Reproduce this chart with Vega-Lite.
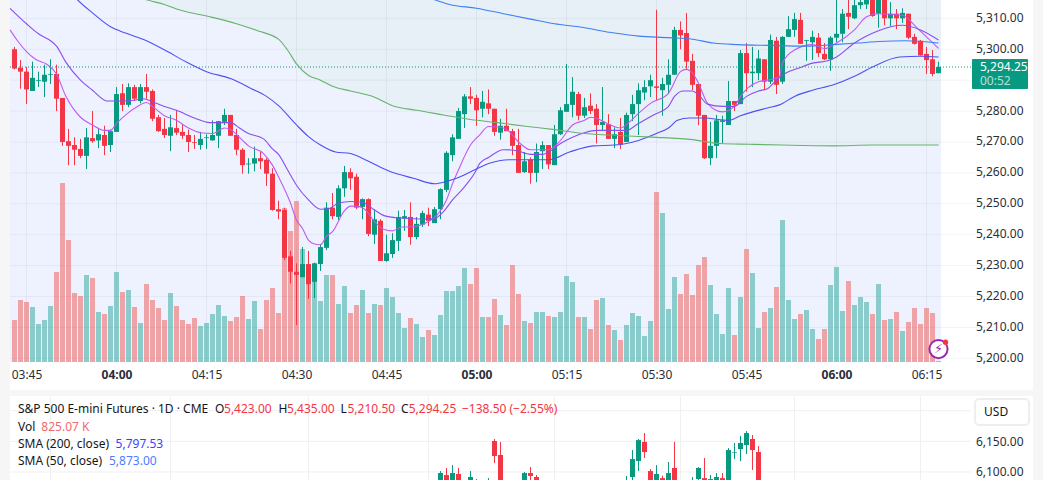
{
"$schema":"https://vega.github.io/schema/vega-lite/v6.json",
"width":1043,"height":480,"padding":0,"autosize":"none","background":"#f6f6f6",
"config":{"view":{"stroke":null},"font":"Noto Sans"},
"resolve":{"scale":{"x":"independent","y":"independent","color":"independent"}},
"datasets":{
"panels":[
{"kind":"card","t0":"03:42:15","t1":"06:32:45","p0":5189.76,"p1":5315.93},
{"kind":"card","t0":"03:42:15","t1":"06:32:45","p0":5160.64,"p1":5187.82},
{"kind":"plot","t0":"03:42:15","t1":"06:17:25","p0":5198.8,"p1":5315.93}
],
"hgrid":[
{"p":5310,"t0":"03:42:15","t1":"06:26:05"},{"p":5300,"t0":"03:42:15","t1":"06:26:05"},{"p":5290,"t0":"03:42:15","t1":"06:26:05"},{"p":5280,"t0":"03:42:15","t1":"06:26:05"},{"p":5270,"t0":"03:42:15","t1":"06:26:05"},{"p":5260,"t0":"03:42:15","t1":"06:26:05"},{"p":5250,"t0":"03:42:15","t1":"06:26:05"},{"p":5240,"t0":"03:42:15","t1":"06:26:05"},{"p":5230,"t0":"03:42:15","t1":"06:26:05"},{"p":5220,"t0":"03:42:15","t1":"06:26:05"},{"p":5210,"t0":"03:42:15","t1":"06:26:05"},{"p":5200,"t0":"03:42:15","t1":"06:26:05"}
],
"vgrid":[
{"t":"03:45:00","p0":5198.8,"p1":5315.93},{"t":"04:00:00","p0":5198.8,"p1":5315.93},{"t":"04:15:00","p0":5198.8,"p1":5315.93},{"t":"04:30:00","p0":5198.8,"p1":5315.93},{"t":"04:45:00","p0":5198.8,"p1":5315.93},{"t":"05:00:00","p0":5198.8,"p1":5315.93},{"t":"05:15:00","p0":5198.8,"p1":5315.93},{"t":"05:30:00","p0":5198.8,"p1":5315.93},{"t":"05:45:00","p0":5198.8,"p1":5315.93},{"t":"06:00:00","p0":5198.8,"p1":5315.93},{"t":"06:15:00","p0":5198.8,"p1":5315.93}
],
"cloud":[
{"t":"04:03:00","p":5317.5},{"t":"04:05:00","p":5316},{"t":"04:08:00","p":5314.5},{"t":"04:10:00","p":5313},{"t":"04:15:00","p":5310.75},{"t":"04:20:00","p":5308.25},{"t":"04:23:30","p":5306},{"t":"04:27:00","p":5303.25},{"t":"04:28:30","p":5299.75},{"t":"04:30:00","p":5295.25},{"t":"04:32:00","p":5291.5},{"t":"04:34:00","p":5290},{"t":"04:36:00","p":5288},{"t":"04:39:00","p":5286.5},{"t":"04:43:00","p":5284.5},{"t":"04:46:00","p":5281.75},{"t":"04:50:00","p":5280.25},{"t":"04:54:30","p":5278.75},{"t":"04:59:00","p":5277.25},{"t":"05:03:30","p":5276.25},{"t":"05:08:30","p":5275},{"t":"05:13:00","p":5274},{"t":"05:18:00","p":5272.75},{"t":"05:22:00","p":5272.25},{"t":"05:27:00","p":5271.75},{"t":"05:30:00","p":5271.5},{"t":"05:36:00","p":5270.75},{"t":"05:40:30","p":5269.5},{"t":"05:45:30","p":5269.25},{"t":"05:51:00","p":5269},{"t":"05:59:30","p":5268.75},{"t":"06:06:00","p":5269},{"t":"06:17:25","p":5269}
],
"bars":[
{"t":"03:43","o":5300,"h":5300.75,"l":5293.5,"c":5293.75,"v":1260},
{"t":"03:44","o":5294,"h":5296.5,"l":5287.25,"c":5292.75,"v":1860},
{"t":"03:45","o":5292.75,"h":5294.25,"l":5282.25,"c":5287,"v":1800},
{"t":"03:46","o":5286.5,"h":5296,"l":5286.5,"c":5290.75,"v":1650},
{"t":"03:47","o":5289.75,"h":5292.75,"l":5287.75,"c":5290,"v":1140},
{"t":"03:48","o":5289.5,"h":5295,"l":5284.5,"c":5291.75,"v":1260},
{"t":"03:49","o":5291.75,"h":5296.75,"l":5288.75,"c":5292,"v":1680},
{"t":"03:50","o":5292,"h":5295,"l":5280,"c":5284,"v":2700},
{"t":"03:51","o":5284.25,"h":5284.25,"l":5268.75,"c":5270,"v":5370},
{"t":"03:52","o":5270.25,"h":5274.25,"l":5262.5,"c":5268.75,"v":3660},
{"t":"03:53","o":5269,"h":5271.5,"l":5262.5,"c":5267.5,"v":2070},
{"t":"03:54","o":5267.75,"h":5271,"l":5264.75,"c":5265.5,"v":1980},
{"t":"03:55","o":5265.5,"h":5274.5,"l":5261.25,"c":5271.5,"v":2610},
{"t":"03:56","o":5271.25,"h":5280,"l":5269.75,"c":5270.25,"v":2520},
{"t":"03:57","o":5270.5,"h":5274.5,"l":5268,"c":5272.5,"v":1500},
{"t":"03:58","o":5272.25,"h":5275.25,"l":5265.75,"c":5268.75,"v":1440},
{"t":"03:59","o":5269,"h":5274,"l":5266.75,"c":5273.5,"v":1680},
{"t":"04:00","o":5273.25,"h":5287.75,"l":5273.25,"c":5285.5,"v":2700},
{"t":"04:01","o":5285.75,"h":5288.75,"l":5280,"c":5282,"v":2100},
{"t":"04:02","o":5282,"h":5289,"l":5281.25,"c":5287.75,"v":2160},
{"t":"04:03","o":5287.75,"h":5288.5,"l":5283.25,"c":5284,"v":1650},
{"t":"04:04","o":5283.25,"h":5288.75,"l":5282.5,"c":5287.75,"v":1170},
{"t":"04:05","o":5287.75,"h":5292,"l":5284,"c":5286.25,"v":2340},
{"t":"04:06","o":5286.5,"h":5287,"l":5276.75,"c":5277.5,"v":1860},
{"t":"04:07","o":5278,"h":5278.75,"l":5273.25,"c":5273.5,"v":1620},
{"t":"04:08","o":5274.25,"h":5277.75,"l":5271.25,"c":5272.25,"v":1260},
{"t":"04:09","o":5272,"h":5278.75,"l":5267,"c":5274.75,"v":2070},
{"t":"04:10","o":5274.5,"h":5280.25,"l":5272.25,"c":5273,"v":1680},
{"t":"04:11","o":5273.25,"h":5275.75,"l":5271,"c":5272,"v":1260},
{"t":"04:12","o":5272.25,"h":5274,"l":5266.75,"c":5270,"v":1140},
{"t":"04:13","o":5270,"h":5272.25,"l":5267.75,"c":5269.75,"v":1320},
{"t":"04:14","o":5269,"h":5273.25,"l":5267.5,"c":5271,"v":1080},
{"t":"04:15","o":5271.25,"h":5272.5,"l":5267.75,"c":5271.5,"v":1170},
{"t":"04:16","o":5270.5,"h":5277,"l":5270.5,"c":5272.25,"v":1440},
{"t":"04:17","o":5272,"h":5276.75,"l":5268,"c":5276.75,"v":1710},
{"t":"04:18","o":5276.5,"h":5280.75,"l":5275.5,"c":5278.75,"v":1380},
{"t":"04:19","o":5278.75,"h":5278.75,"l":5272,"c":5272,"v":1230},
{"t":"04:20","o":5272.25,"h":5274.25,"l":5265.75,"c":5267.5,"v":1350},
{"t":"04:21","o":5267.5,"h":5268,"l":5259.75,"c":5262.5,"v":1980},
{"t":"04:22","o":5262.75,"h":5264.75,"l":5259.75,"c":5263,"v":1290},
{"t":"04:23","o":5263,"h":5268.5,"l":5260.5,"c":5264.75,"v":1830},
{"t":"04:24","o":5264.75,"h":5266.75,"l":5261.25,"c":5263.75,"v":990},
{"t":"04:25","o":5264.25,"h":5264.75,"l":5255.75,"c":5259.75,"v":1860},
{"t":"04:26","o":5259.75,"h":5261.5,"l":5247.75,"c":5248,"v":2220},
{"t":"04:27","o":5248.25,"h":5251,"l":5245,"c":5247.5,"v":1470},
{"t":"04:28","o":5248,"h":5248.75,"l":5231.75,"c":5232.5,"v":4620},
{"t":"04:29","o":5233,"h":5234.75,"l":5224.25,"c":5228,"v":3930},
{"t":"04:30","o":5228,"h":5230.75,"l":5210.75,"c":5227,"v":4830},
{"t":"04:31","o":5226.25,"h":5236,"l":5226.25,"c":5230.5,"v":3390},
{"t":"04:32","o":5230.5,"h":5234.75,"l":5219.25,"c":5224,"v":2900},
{"t":"04:33","o":5224.75,"h":5231,"l":5219.5,"c":5230.75,"v":2800},
{"t":"04:34","o":5230.5,"h":5237,"l":5228.25,"c":5236,"v":1830},
{"t":"04:35","o":5235.75,"h":5250.5,"l":5235,"c":5248.75,"v":2610},
{"t":"04:36","o":5248.75,"h":5253.5,"l":5245,"c":5246,"v":2610},
{"t":"04:37","o":5245.75,"h":5256,"l":5244.75,"c":5255,"v":1740},
{"t":"04:38","o":5255,"h":5262.25,"l":5252.25,"c":5260.25,"v":2280},
{"t":"04:39","o":5260.25,"h":5261.5,"l":5254.5,"c":5258.25,"v":1470},
{"t":"04:40","o":5258.75,"h":5259.75,"l":5248.25,"c":5248.75,"v":1710},
{"t":"04:41","o":5249,"h":5251.75,"l":5245,"c":5251.5,"v":2160},
{"t":"04:42","o":5251.5,"h":5251.75,"l":5239.5,"c":5240.25,"v":1470},
{"t":"04:43","o":5240,"h":5248.25,"l":5237,"c":5245,"v":1740},
{"t":"04:44","o":5244.5,"h":5245,"l":5231.5,"c":5231.5,"v":1710},
{"t":"04:45","o":5231.5,"h":5240,"l":5231.25,"c":5234,"v":2220},
{"t":"04:46","o":5233.75,"h":5240.5,"l":5232.5,"c":5238.25,"v":1950},
{"t":"04:47","o":5238,"h":5247.75,"l":5234.75,"c":5245.75,"v":1470},
{"t":"04:48","o":5245.25,"h":5248,"l":5241.25,"c":5246,"v":1020},
{"t":"04:49","o":5245.75,"h":5250.5,"l":5236.75,"c":5239.25,"v":1320},
{"t":"04:50","o":5239.25,"h":5245.75,"l":5238.5,"c":5243.5,"v":1140},
{"t":"04:51","o":5243.25,"h":5247.75,"l":5242.5,"c":5247,"v":750},
{"t":"04:52","o":5246.5,"h":5248.75,"l":5242.75,"c":5244.5,"v":960},
{"t":"04:53","o":5243.75,"h":5249,"l":5243.75,"c":5248.25,"v":810},
{"t":"04:54","o":5248.25,"h":5255,"l":5245,"c":5254.75,"v":1410},
{"t":"04:55","o":5254.5,"h":5267,"l":5253.75,"c":5266.5,"v":2130},
{"t":"04:56","o":5265.75,"h":5272.5,"l":5263.75,"c":5271.5,"v":2130},
{"t":"04:57","o":5271,"h":5281,"l":5271,"c":5280,"v":2280},
{"t":"04:58","o":5279,"h":5285.5,"l":5274.5,"c":5284.75,"v":2820},
{"t":"04:59","o":5284.75,"h":5287.75,"l":5282.25,"c":5284,"v":2340},
{"t":"05:00","o":5284.25,"h":5285.25,"l":5275.25,"c":5280.25,"v":2820},
{"t":"05:01","o":5280.75,"h":5286.5,"l":5278,"c":5283,"v":1350},
{"t":"05:02","o":5282.5,"h":5287,"l":5279,"c":5280.75,"v":1350},
{"t":"05:03","o":5280.75,"h":5280.75,"l":5272,"c":5273.25,"v":1890},
{"t":"05:04","o":5273,"h":5277.5,"l":5270.75,"c":5275.25,"v":1410},
{"t":"05:05","o":5275.25,"h":5280.75,"l":5273.5,"c":5273.5,"v":1110},
{"t":"05:06","o":5273.5,"h":5274.25,"l":5265.75,"c":5268.75,"v":2910},
{"t":"05:07","o":5269,"h":5274.25,"l":5260,"c":5260,"v":2040},
{"t":"05:08","o":5260.25,"h":5266.75,"l":5260,"c":5263.75,"v":1230},
{"t":"05:09","o":5264.25,"h":5265,"l":5256.5,"c":5260,"v":1170},
{"t":"05:10","o":5260,"h":5269.5,"l":5257,"c":5266.75,"v":1500},
{"t":"05:11","o":5267,"h":5270.25,"l":5261.25,"c":5269,"v":1500},
{"t":"05:12","o":5269,"h":5269,"l":5261.25,"c":5262.75,"v":1380},
{"t":"05:13","o":5262.5,"h":5275.5,"l":5262.5,"c":5272.5,"v":1350},
{"t":"05:14","o":5272.5,"h":5281.25,"l":5272.25,"c":5280.25,"v":1500},
{"t":"05:15","o":5279.75,"h":5295.25,"l":5279.75,"c":5282.25,"v":2580},
{"t":"05:16","o":5282,"h":5291,"l":5278,"c":5286.25,"v":2400},
{"t":"05:17","o":5285.5,"h":5286.25,"l":5277,"c":5278.5,"v":1350},
{"t":"05:18","o":5278.5,"h":5284.25,"l":5277.75,"c":5281.25,"v":1350},
{"t":"05:19","o":5281.75,"h":5285.75,"l":5279,"c":5280,"v":990},
{"t":"05:20","o":5280.75,"h":5282.25,"l":5269.5,"c":5275.5,"v":1860},
{"t":"05:21","o":5275.5,"h":5287.75,"l":5273.75,"c":5276.5,"v":1920},
{"t":"05:22","o":5275.75,"h":5279,"l":5271,"c":5271,"v":1110},
{"t":"05:23","o":5271,"h":5274.75,"l":5268,"c":5272.5,"v":960},
{"t":"05:24","o":5273.25,"h":5277.75,"l":5267.75,"c":5269.25,"v":660},
{"t":"05:25","o":5270,"h":5279.5,"l":5270,"c":5278.75,"v":1110},
{"t":"05:26","o":5279,"h":5285.25,"l":5276.75,"c":5282.25,"v":1470},
{"t":"05:27","o":5282.25,"h":5289,"l":5272.25,"c":5286.75,"v":1380},
{"t":"05:28","o":5286,"h":5290,"l":5283.5,"c":5287.75,"v":780},
{"t":"05:29","o":5288,"h":5291.75,"l":5284.5,"c":5290,"v":1230},
{"t":"05:30","o":5288,"h":5312.75,"l":5283.5,"c":5287.5,"v":5100},
{"t":"05:31","o":5286.75,"h":5290.75,"l":5278.5,"c":5288.75,"v":4470},
{"t":"05:32","o":5288.5,"h":5296.75,"l":5285.5,"c":5291.75,"v":1590},
{"t":"05:33","o":5291.75,"h":5307.25,"l":5291.75,"c":5306.25,"v":2550},
{"t":"05:34","o":5306.25,"h":5309,"l":5300,"c":5304.5,"v":2040},
{"t":"05:35","o":5305.25,"h":5311.75,"l":5293.25,"c":5296,"v":2640},
{"t":"05:36","o":5296.25,"h":5298.5,"l":5286.75,"c":5288.5,"v":2010},
{"t":"05:37","o":5288.75,"h":5288.75,"l":5275.5,"c":5278.5,"v":2910},
{"t":"05:38","o":5278.75,"h":5278.75,"l":5264.5,"c":5264.75,"v":3150},
{"t":"05:39","o":5264.75,"h":5276.5,"l":5262.5,"c":5268.75,"v":2310},
{"t":"05:40","o":5268.75,"h":5278.75,"l":5264.75,"c":5277,"v":1440},
{"t":"05:41","o":5276.5,"h":5278.5,"l":5269.5,"c":5277,"v":840},
{"t":"05:42","o":5275.5,"h":5289.75,"l":5275.5,"c":5283.25,"v":2220},
{"t":"05:43","o":5283.25,"h":5283.25,"l":5280,"c":5282,"v":810},
{"t":"05:44","o":5282.25,"h":5299.75,"l":5282.25,"c":5298.75,"v":1950},
{"t":"05:45","o":5298.75,"h":5302,"l":5286.25,"c":5292.25,"v":3390},
{"t":"05:46","o":5292.25,"h":5300.75,"l":5287.75,"c":5292.75,"v":2670},
{"t":"05:47","o":5292.25,"h":5299.75,"l":5290,"c":5297,"v":1020},
{"t":"05:48","o":5296.75,"h":5296.75,"l":5286.75,"c":5289.5,"v":1500},
{"t":"05:49","o":5289.5,"h":5304.75,"l":5288.75,"c":5303,"v":1620},
{"t":"05:50","o":5302.75,"h":5304,"l":5285.5,"c":5288.5,"v":2250},
{"t":"05:51","o":5289.5,"h":5304.25,"l":5288.75,"c":5304,"v":4260},
{"t":"05:52","o":5304,"h":5310.75,"l":5304,"c":5306.5,"v":1860},
{"t":"05:53","o":5306.25,"h":5311.75,"l":5304,"c":5309.75,"v":1290},
{"t":"05:54","o":5309.5,"h":5311.75,"l":5301.75,"c":5301.75,"v":1440},
{"t":"05:55","o":5302.75,"h":5303,"l":5296.25,"c":5303,"v":1560},
{"t":"05:56","o":5302.25,"h":5306,"l":5296.5,"c":5304,"v":990},
{"t":"05:57","o":5303.75,"h":5305.25,"l":5297.5,"c":5298.75,"v":690},
{"t":"05:58","o":5298.5,"h":5302,"l":5296.5,"c":5296.75,"v":990},
{"t":"05:59","o":5296.75,"h":5304.25,"l":5293,"c":5303.75,"v":2310},
{"t":"06:00","o":5303.75,"h":5316.5,"l":5302.25,"c":5305,"v":2850},
{"t":"06:01","o":5305,"h":5313,"l":5302.25,"c":5311.5,"v":1530},
{"t":"06:02","o":5311.75,"h":5317,"l":5306.5,"c":5310.5,"v":2430},
{"t":"06:03","o":5310,"h":5317,"l":5309.75,"c":5314.25,"v":1710},
{"t":"06:04","o":5314.25,"h":5317,"l":5313,"c":5315.25,"v":1950},
{"t":"06:05","o":5314.5,"h":5318,"l":5313,"c":5316.5,"v":1800},
{"t":"06:06","o":5317.25,"h":5318,"l":5310.5,"c":5310.75,"v":1440},
{"t":"06:07","o":5311.5,"h":5318,"l":5307,"c":5316.5,"v":2340},
{"t":"06:08","o":5316.5,"h":5318,"l":5307.75,"c":5310,"v":1260},
{"t":"06:09","o":5310,"h":5315.25,"l":5307.5,"c":5311.5,"v":1290},
{"t":"06:10","o":5311.5,"h":5313,"l":5306.5,"c":5310,"v":1500},
{"t":"06:11","o":5310,"h":5313.25,"l":5308.5,"c":5311.75,"v":930},
{"t":"06:12","o":5311.5,"h":5311.5,"l":5303.25,"c":5303.75,"v":1200},
{"t":"06:13","o":5304,"h":5305,"l":5301.5,"c":5301.75,"v":1620},
{"t":"06:14","o":5302.75,"h":5303,"l":5298,"c":5298,"v":1140},
{"t":"06:15","o":5298.5,"h":5300.75,"l":5292,"c":5296.5,"v":1620},
{"t":"06:16","o":5296.75,"h":5299.75,"l":5291.25,"c":5292,"v":1470},
{"t":"06:17","o":5292.25,"h":5296,"l":5292.25,"c":5294.25,"v":30}
],
"sma":[
{"s":"a","t":"03:42:15","p":5306.25},{"s":"a","t":"03:43:30","p":5302.75},{"s":"a","t":"03:45:00","p":5299.25},{"s":"a","t":"03:46:30","p":5296.75},{"s":"a","t":"03:48:30","p":5295},{"s":"a","t":"03:50:00","p":5292},{"s":"a","t":"03:51:30","p":5285},{"s":"a","t":"03:54:00","p":5278},{"s":"a","t":"03:56:00","p":5275.5},{"s":"a","t":"03:58:00","p":5273.75},{"s":"a","t":"03:59:00","p":5273.75},{"s":"a","t":"04:00:00","p":5276},{"s":"a","t":"04:02:00","p":5279.5},{"s":"a","t":"04:03:30","p":5281.5},{"s":"a","t":"04:05:00","p":5282.75},{"s":"a","t":"04:06:00","p":5281.5},{"s":"a","t":"04:08:00","p":5278.5},{"s":"a","t":"04:10:00","p":5277},{"s":"a","t":"04:12:00","p":5274.5},{"s":"a","t":"04:14:00","p":5273},{"s":"a","t":"04:16:00","p":5272.75},{"s":"a","t":"04:18:00","p":5274.5},{"s":"a","t":"04:19:00","p":5274},{"s":"a","t":"04:21:00","p":5270.5},{"s":"a","t":"04:22:00","p":5268.75},{"s":"a","t":"04:24:30","p":5266.25},{"s":"a","t":"04:26:00","p":5262.5},{"s":"a","t":"04:27:00","p":5258.75},{"s":"a","t":"04:29:00","p":5250.25},{"s":"a","t":"04:30:00","p":5244.75},{"s":"a","t":"04:31:00","p":5242},{"s":"a","t":"04:32:00","p":5238.25},{"s":"a","t":"04:33:00","p":5237},{"s":"a","t":"04:34:00","p":5236.75},{"s":"a","t":"04:35:00","p":5239.5},{"s":"a","t":"04:36:00","p":5241},{"s":"a","t":"04:38:00","p":5247.75},{"s":"a","t":"04:39:00","p":5249.25},{"s":"a","t":"04:40:00","p":5249.25},{"s":"a","t":"04:41:30","p":5248},{"s":"a","t":"04:43:00","p":5244.25},{"s":"a","t":"04:44:30","p":5241.75},{"s":"a","t":"04:46:00","p":5241.25},{"s":"a","t":"04:47:30","p":5242.5},{"s":"a","t":"04:48:30","p":5242.5},{"s":"a","t":"04:50:30","p":5243},{"s":"a","t":"04:52:00","p":5244.25},{"s":"a","t":"04:53:30","p":5246.5},{"s":"a","t":"04:55:00","p":5251.25},{"s":"a","t":"04:56:00","p":5256.5},{"s":"a","t":"04:57:00","p":5261},{"s":"a","t":"04:59:00","p":5269},{"s":"a","t":"05:00:30","p":5272.25},{"s":"a","t":"05:02:00","p":5275},{"s":"a","t":"05:04:00","p":5274.75},{"s":"a","t":"05:05:30","p":5273.25},{"s":"a","t":"05:07:00","p":5270},{"s":"a","t":"05:09:00","p":5267.5},{"s":"a","t":"05:11:00","p":5267.5},{"s":"a","t":"05:12:00","p":5267.5},{"s":"a","t":"05:14:00","p":5270.5},{"s":"a","t":"05:16:00","p":5275.5},{"s":"a","t":"05:18:00","p":5277},{"s":"a","t":"05:19:00","p":5278},{"s":"a","t":"05:20:30","p":5277.25},{"s":"a","t":"05:22:00","p":5275.75},{"s":"a","t":"05:24:00","p":5274.5},{"s":"a","t":"05:25:30","p":5276.5},{"s":"a","t":"05:27:00","p":5279.25},{"s":"a","t":"05:29:00","p":5282.5},{"s":"a","t":"05:32:00","p":5285.75},{"s":"a","t":"05:34:00","p":5292.75},{"s":"a","t":"05:35:00","p":5293.5},{"s":"a","t":"05:36:00","p":5292.25},{"s":"a","t":"05:37:00","p":5289},{"s":"a","t":"05:38:30","p":5282.5},{"s":"a","t":"05:41:00","p":5279.75},{"s":"a","t":"05:43:00","p":5281.5},{"s":"a","t":"05:44:00","p":5284.75},{"s":"a","t":"05:47:00","p":5289.5},{"s":"a","t":"05:48:30","p":5290},{"s":"a","t":"05:50:30","p":5291},{"s":"a","t":"05:51:00","p":5295.5},{"s":"a","t":"05:53:00","p":5299.75},{"s":"a","t":"05:56:00","p":5301.5},{"s":"a","t":"05:58:00","p":5300.25},{"s":"a","t":"06:00:00","p":5302},{"s":"a","t":"06:03:00","p":5306.25},{"s":"a","t":"06:05:00","p":5310.5},{"s":"a","t":"06:07:00","p":5311.5},{"s":"a","t":"06:11:00","p":5311},{"s":"a","t":"06:13:30","p":5306.75},{"s":"a","t":"06:17:00","p":5300.25},
{"s":"b","t":"03:42:15","p":5313.25},{"s":"b","t":"03:45:00","p":5308.25},{"s":"b","t":"03:47:00","p":5305},{"s":"b","t":"03:49:00","p":5302.75},{"s":"b","t":"03:50:00","p":5301},{"s":"b","t":"03:51:30","p":5296},{"s":"b","t":"03:54:00","p":5290},{"s":"b","t":"03:56:00","p":5286.75},{"s":"b","t":"03:58:30","p":5283.25},{"s":"b","t":"04:00:30","p":5283.25},{"s":"b","t":"04:03:00","p":5283.5},{"s":"b","t":"04:04:30","p":5284},{"s":"b","t":"04:06:00","p":5283},{"s":"b","t":"04:08:00","p":5281.5},{"s":"b","t":"04:10:00","p":5280.25},{"s":"b","t":"04:13:00","p":5277.75},{"s":"b","t":"04:15:30","p":5276.25},{"s":"b","t":"04:17:00","p":5276.25},{"s":"b","t":"04:19:00","p":5276.25},{"s":"b","t":"04:20:30","p":5274.5},{"s":"b","t":"04:22:00","p":5272.75},{"s":"b","t":"04:24:30","p":5271},{"s":"b","t":"04:26:00","p":5267.75},{"s":"b","t":"04:27:00","p":5266},{"s":"b","t":"04:28:30","p":5261},{"s":"b","t":"04:30:00","p":5256},{"s":"b","t":"04:32:00","p":5251.25},{"s":"b","t":"04:34:00","p":5248.25},{"s":"b","t":"04:35:30","p":5248.5},{"s":"b","t":"04:37:00","p":5250.25},{"s":"b","t":"04:39:00","p":5250.75},{"s":"b","t":"04:41:00","p":5250.5},{"s":"b","t":"04:43:00","p":5248},{"s":"b","t":"04:44:30","p":5246.25},{"s":"b","t":"04:46:30","p":5245.5},{"s":"b","t":"04:49:00","p":5245.25},{"s":"b","t":"04:51:00","p":5245},{"s":"b","t":"04:53:00","p":5245.25},{"s":"b","t":"04:54:30","p":5247.5},{"s":"b","t":"04:56:00","p":5251.25},{"s":"b","t":"04:58:00","p":5255.5},{"s":"b","t":"05:00:00","p":5261},{"s":"b","t":"05:00:30","p":5263},{"s":"b","t":"05:02:00","p":5265},{"s":"b","t":"05:04:30","p":5267.5},{"s":"b","t":"05:06:30","p":5267.25},{"s":"b","t":"05:09:00","p":5266},{"s":"b","t":"05:11:00","p":5266},{"s":"b","t":"05:12:00","p":5266.75},{"s":"b","t":"05:14:00","p":5269.5},{"s":"b","t":"05:16:00","p":5271.5},{"s":"b","t":"05:18:00","p":5273},{"s":"b","t":"05:20:00","p":5273.75},{"s":"b","t":"05:23:00","p":5273.75},{"s":"b","t":"05:25:00","p":5273.75},{"s":"b","t":"05:27:00","p":5276},{"s":"b","t":"05:29:30","p":5278.75},{"s":"b","t":"05:32:00","p":5281.5},{"s":"b","t":"05:33:00","p":5284.75},{"s":"b","t":"05:34:30","p":5286.5},{"s":"b","t":"05:36:00","p":5286.5},{"s":"b","t":"05:37:00","p":5285.25},{"s":"b","t":"05:38:30","p":5282.25},{"s":"b","t":"05:41:00","p":5281.5},{"s":"b","t":"05:43:00","p":5281.5},{"s":"b","t":"05:45:00","p":5284.75},{"s":"b","t":"05:47:00","p":5286.5},{"s":"b","t":"05:48:30","p":5287.25},{"s":"b","t":"05:50:00","p":5290},{"s":"b","t":"05:51:30","p":5292.25},{"s":"b","t":"05:53:30","p":5293.75},{"s":"b","t":"05:56:00","p":5295.5},{"s":"b","t":"05:58:30","p":5296.25},{"s":"b","t":"06:00:00","p":5297.5},{"s":"b","t":"06:03:00","p":5302},{"s":"b","t":"06:05:00","p":5304.25},{"s":"b","t":"06:07:00","p":5306},{"s":"b","t":"06:11:00","p":5307.75},{"s":"b","t":"06:14:00","p":5306.25},{"s":"b","t":"06:17:00","p":5303},
{"s":"c","t":"03:53:00","p":5317},{"s":"c","t":"03:53:30","p":5316},{"s":"c","t":"03:56:00","p":5311.75},{"s":"c","t":"03:59:00","p":5307.25},{"s":"c","t":"04:01:30","p":5305.25},{"s":"c","t":"04:05:00","p":5302.75},{"s":"c","t":"04:08:30","p":5299.25},{"s":"c","t":"04:11:30","p":5296},{"s":"c","t":"04:15:00","p":5292.75},{"s":"c","t":"04:19:00","p":5290.5},{"s":"c","t":"04:22:30","p":5287.25},{"s":"c","t":"04:25:00","p":5284.75},{"s":"c","t":"04:27:00","p":5281.75},{"s":"c","t":"04:30:00","p":5275.5},{"s":"c","t":"04:32:00","p":5271.75},{"s":"c","t":"04:34:00","p":5269},{"s":"c","t":"04:36:30","p":5266.75},{"s":"c","t":"04:39:00","p":5266.25},{"s":"c","t":"04:42:00","p":5263.75},{"s":"c","t":"04:45:30","p":5260.5},{"s":"c","t":"04:49:30","p":5258.25},{"s":"c","t":"04:53:00","p":5256.5},{"s":"c","t":"04:55:00","p":5257.25},{"s":"c","t":"04:57:00","p":5258.5},{"s":"c","t":"05:00:00","p":5261.25},{"s":"c","t":"05:02:00","p":5263},{"s":"c","t":"05:05:30","p":5264.25},{"s":"c","t":"05:09:00","p":5264.25},{"s":"c","t":"05:12:00","p":5264.25},{"s":"c","t":"05:15:30","p":5266.75},{"s":"c","t":"05:19:30","p":5268.75},{"s":"c","t":"05:23:00","p":5269},{"s":"c","t":"05:25:00","p":5269.5},{"s":"c","t":"05:27:00","p":5270.5},{"s":"c","t":"05:30:00","p":5272.75},{"s":"c","t":"05:32:00","p":5274.5},{"s":"c","t":"05:33:30","p":5277},{"s":"c","t":"05:35:30","p":5277.75},{"s":"c","t":"05:38:00","p":5277.75},{"s":"c","t":"05:42:00","p":5277},{"s":"c","t":"05:44:00","p":5278.5},{"s":"c","t":"05:48:30","p":5281},{"s":"c","t":"05:50:30","p":5282},{"s":"c","t":"05:53:00","p":5284.75},{"s":"c","t":"05:56:00","p":5286.75},{"s":"c","t":"05:59:30","p":5288.5},{"s":"c","t":"06:03:00","p":5291.25},{"s":"c","t":"06:06:00","p":5294.25},{"s":"c","t":"06:10:30","p":5297.5},{"s":"c","t":"06:14:00","p":5297.75},{"s":"c","t":"06:17:00","p":5297.5},
{"s":"d","t":"04:51:00","p":5317.25},{"s":"d","t":"04:53:00","p":5316},{"s":"d","t":"04:55:30","p":5314.5},{"s":"d","t":"05:00:00","p":5313.25},{"s":"d","t":"05:04:30","p":5311.5},{"s":"d","t":"05:09:00","p":5309.75},{"s":"d","t":"05:13:00","p":5308.25},{"s":"d","t":"05:17:00","p":5307.25},{"s":"d","t":"05:23:00","p":5305.25},{"s":"d","t":"05:27:00","p":5304.25},{"s":"d","t":"05:32:00","p":5303.75},{"s":"d","t":"05:36:00","p":5303.25},{"s":"d","t":"05:39:30","p":5302},{"s":"d","t":"05:43:30","p":5301.5},{"s":"d","t":"05:48:30","p":5301.25},{"s":"d","t":"05:55:00","p":5301},{"s":"d","t":"05:59:30","p":5301.5},{"s":"d","t":"06:03:30","p":5302},{"s":"d","t":"06:07:00","p":5302.5},{"s":"d","t":"06:11:30","p":5302.75},{"s":"d","t":"06:17:00","p":5302},
{"s":"e","t":"04:03:00","p":5317.5},{"s":"e","t":"04:05:00","p":5316},{"s":"e","t":"04:08:00","p":5314.5},{"s":"e","t":"04:10:00","p":5313},{"s":"e","t":"04:15:00","p":5310.75},{"s":"e","t":"04:20:00","p":5308.25},{"s":"e","t":"04:23:30","p":5306},{"s":"e","t":"04:27:00","p":5303.25},{"s":"e","t":"04:28:30","p":5299.75},{"s":"e","t":"04:30:00","p":5295.25},{"s":"e","t":"04:32:00","p":5291.5},{"s":"e","t":"04:34:00","p":5290},{"s":"e","t":"04:36:00","p":5288},{"s":"e","t":"04:39:00","p":5286.5},{"s":"e","t":"04:43:00","p":5284.5},{"s":"e","t":"04:46:00","p":5281.75},{"s":"e","t":"04:50:00","p":5280.25},{"s":"e","t":"04:54:30","p":5278.75},{"s":"e","t":"04:59:00","p":5277.25},{"s":"e","t":"05:03:30","p":5276.25},{"s":"e","t":"05:08:30","p":5275},{"s":"e","t":"05:13:00","p":5274},{"s":"e","t":"05:18:00","p":5272.75},{"s":"e","t":"05:22:00","p":5272.25},{"s":"e","t":"05:27:00","p":5271.75},{"s":"e","t":"05:30:00","p":5271.5},{"s":"e","t":"05:36:00","p":5270.75},{"s":"e","t":"05:40:30","p":5269.5},{"s":"e","t":"05:45:30","p":5269.25},{"s":"e","t":"05:51:00","p":5269},{"s":"e","t":"05:59:30","p":5268.75},{"s":"e","t":"06:06:00","p":5269},{"s":"e","t":"06:17:00","p":5269}
],
"last":[{"p":5294.25,"t0":"03:42:15","t1":"06:22:35"}],
"tag":[{"t0":"06:22:35","t1":"06:31:55","p0":5287.15,"p1":5296.85}],
"tagText":[{"t":"06:23:55","p":5294.25,"label":"5,294.25","kind":"price"},{"t":"06:23:55","p":5289.75,"label":"00:52","kind":"clock"}],
"badge":[{"t":"06:17:00","p":5203}],
"badgeDot":[{"t":"06:18:10","p":5205.2}],
"mainGuide":[{"t":"04:00:00","p":5300}],
"dailyGuide":[{"d":100,"v":6150}],
"daily":[
{"d":73,"o":6078,"h":6101.5,"l":6070,"c":6098.25},{"d":74,"o":6095,"h":6106.5,"l":6070,"c":6078},{"d":75,"o":6078,"h":6111.25,"l":6070,"c":6098.25},{"d":76,"o":6096.75,"h":6106.5,"l":6070,"c":6078},{"d":78,"o":6078,"h":6101.5,"l":6070,"c":6091.75},{"d":79,"o":6080,"h":6088.5,"l":6070,"c":6078},{"d":81,"o":6078,"h":6090,"l":6070,"c":6080},{"d":82,"o":6150.5,"h":6153.75,"l":6114.5,"c":6126},{"d":83,"o":6127.75,"h":6148.75,"l":6070,"c":6078},{"d":87,"o":6078,"h":6100,"l":6070,"c":6098.25},{"d":88,"o":6098.25,"h":6108,"l":6086.75,"c":6093.5},{"d":89,"o":6091.75,"h":6095,"l":6070,"c":6078},
{"d":104,"o":6078,"h":6093.5,"l":6070,"c":6082},{"d":105,"o":6091.75,"h":6135.75,"l":6086.75,"c":6121},{"d":106,"o":6117.75,"h":6153.75,"l":6101.5,"c":6152},{"d":107,"o":6149,"h":6163.5,"l":6122.75,"c":6132.5},{"d":108,"o":6101.5,"h":6104.75,"l":6070,"c":6078},{"d":109,"o":6078,"h":6111.25,"l":6070,"c":6096.75},{"d":110,"o":6090,"h":6094,"l":6070,"c":6078},{"d":111,"o":6078,"h":6116.25,"l":6070,"c":6098.25},{"d":112,"o":6106.5,"h":6149,"l":6070,"c":6078},{"d":115,"o":6078,"h":6091.75,"l":6070,"c":6082},{"d":116,"o":6088.5,"h":6108,"l":6087,"c":6106.5},{"d":117,"o":6090,"h":6122.75,"l":6070,"c":6078},{"d":118,"o":6087,"h":6095,"l":6070,"c":6088.5},{"d":119,"o":6078,"h":6098.25,"l":6070,"c":6091.75},{"d":120,"o":6090,"h":6098.25,"l":6070,"c":6078},{"d":121,"o":6078,"h":6139,"l":6070,"c":6135.75},{"d":122,"o":6131.5,"h":6147.25,"l":6121,"c":6132.5},{"d":123,"o":6137.25,"h":6158.75,"l":6117.75,"c":6147.25},{"d":124,"o":6144,"h":6166.75,"l":6129.25,"c":6163.5},{"d":125,"o":6153.75,"h":6160.25,"l":6103.25,"c":6135.75},{"d":126,"o":6132.5,"h":6142.25,"l":6070,"c":6078}
],
"dailyHgrid":[{"v":6200,"d0":1.25,"d1":161.4},{"v":6150,"d0":1.25,"d1":161.4},{"v":6100,"d0":1.25,"d1":161.4}],
"dailyVgrid":[{"d":8,"v0":6086.9,"v1":6223.9},{"d":28,"v0":6086.9,"v1":6223.9},{"d":51,"v0":6086.9,"v1":6223.9},{"d":71,"v0":6086.9,"v1":6223.9},{"d":92,"v0":6086.9,"v1":6223.9},{"d":113,"v0":6086.9,"v1":6223.9},{"d":132,"v0":6086.9,"v1":6223.9},{"d":153,"v0":6086.9,"v1":6223.9}],
"usdBox":[{"d0":162.1,"d1":171.1,"v0":6176.6,"v1":6219}],
"legend":[
{"label":"S&P 500 E-mini Futures · 1D · CME","d":2.58,"v":6202.7,"kind":"dark"},
{"label":"O","d":35.42,"v":6202.7,"kind":"dark"},{"label":"5,423.00","d":36.92,"v":6202.7,"kind":"down"},
{"label":"H","d":46,"v":6202.7,"kind":"dark"},{"label":"5,435.00","d":47.42,"v":6202.7,"kind":"down"},
{"label":"L","d":56.35,"v":6202.7,"kind":"dark"},{"label":"5,210.50","d":57.5,"v":6202.7,"kind":"down"},
{"label":"C","d":66.42,"v":6202.7,"kind":"dark"},{"label":"5,294.25","d":67.7,"v":6202.7,"kind":"down"},
{"label":"−138.50 (−2.55%)","d":76.58,"v":6202.7,"kind":"down"},
{"label":"Vol","d":2.58,"v":6173.3,"kind":"dark"},{"label":"825.07 K","d":6.47,"v":6173.3,"kind":"vol"},
{"label":"SMA (200, close)","d":2.58,"v":6145.6,"kind":"dark"},{"label":"5,797.53","d":18.85,"v":6145.6,"kind":"sma200"},
{"label":"SMA (50, close)","d":2.58,"v":6117.9,"kind":"dark"},{"label":"5,873.00","d":17.75,"v":6117.9,"kind":"sma50"},
{"label":"USD","d":163.6,"v":6197.8,"kind":"dark"}
]
},
"layer":[
{"layer":[
{"data":{"name":"panels","format":{"parse":{"t0":"utc:'%H:%M:%S'","t1":"utc:'%H:%M:%S'"}}},
"mark":"rect",
"encoding":{
"x":{"field":"t0","type":"temporal","axis":null,"scale":{"type":"utc","domain":[{"year":1900,"month":1,"date":1,"hours":3,"minutes":40,"seconds":35,"utc":true},{"year":1900,"month":1,"date":1,"hours":6,"minutes":34,"seconds":25,"utc":true}]}},
"x2":{"field":"t1"},
"y":{"field":"p0","type":"quantitative","axis":null,"scale":{"domain":[5160.64,5315.93]}},
"y2":{"field":"p1"},
"color":{"field":"kind","type":"nominal","legend":null,"scale":{"domain":["card","plot"],"range":["#ffffff","#eef2ff"]}}
}},
{"data":{"name":"cloud","format":{"parse":{"t":"utc:'%H:%M:%S'"}}},
"mark":{"type":"area","color":"#e7f0f7","interpolate":"monotone"},
"encoding":{
"x":{"field":"t","type":"temporal","axis":null,"scale":{"type":"utc","domain":[{"year":1900,"month":1,"date":1,"hours":3,"minutes":40,"seconds":35,"utc":true},{"year":1900,"month":1,"date":1,"hours":6,"minutes":34,"seconds":25,"utc":true}]}},
"y":{"field":"p","type":"quantitative","axis":null,"scale":{"domain":[5160.64,5315.93]}},
"y2":{"datum":5316}
}},
{"data":{"name":"hgrid","format":{"parse":{"t0":"utc:'%H:%M:%S'","t1":"utc:'%H:%M:%S'"}}},
"mark":{"type":"rule","color":"#2a2e39","opacity":0.05,"strokeWidth":1},
"encoding":{
"x":{"field":"t0","type":"temporal","axis":null,"scale":{"type":"utc","domain":[{"year":1900,"month":1,"date":1,"hours":3,"minutes":40,"seconds":35,"utc":true},{"year":1900,"month":1,"date":1,"hours":6,"minutes":34,"seconds":25,"utc":true}]}},
"x2":{"field":"t1"},
"y":{"field":"p","type":"quantitative","axis":null,"scale":{"domain":[5160.64,5315.93]}}
}},
{"data":{"name":"vgrid","format":{"parse":{"t":"utc:'%H:%M:%S'"}}},
"mark":{"type":"rule","color":"#2a2e39","opacity":0.06,"strokeWidth":1},
"encoding":{
"x":{"field":"t","type":"temporal","axis":null,"scale":{"type":"utc","domain":[{"year":1900,"month":1,"date":1,"hours":3,"minutes":40,"seconds":35,"utc":true},{"year":1900,"month":1,"date":1,"hours":6,"minutes":34,"seconds":25,"utc":true}]}},
"y":{"field":"p0","type":"quantitative","axis":null,"scale":{"domain":[5160.64,5315.93]}},
"y2":{"field":"p1"}
}}
]},
{"data":{"name":"bars","format":{"parse":{"t":"utc:'%H:%M'"}}},
"resolve":{"scale":{"y":"independent"}},
"layer":[
{"mark":{"type":"bar","size":5,"opacity":0.5},
"encoding":{
"x":{"field":"t","type":"temporal","axis":null,"scale":{"type":"utc","padding":0,"domain":[{"year":1900,"month":1,"date":1,"hours":3,"minutes":40,"seconds":35,"utc":true},{"year":1900,"month":1,"date":1,"hours":6,"minutes":34,"seconds":25,"utc":true}]}},
"y":{"field":"v","type":"quantitative","axis":null,"stack":null,"scale":{"domain":[-3540,10860]}},
"color":{"condition":{"test":"datum.c>=datum.o","value":"#26a69a"},"value":"#ef5350"}
}},
{"layer":[
{"mark":{"type":"rule","strokeWidth":1},
"encoding":{
"x":{"field":"t","type":"temporal","axis":null,"scale":{"type":"utc","padding":0,"domain":[{"year":1900,"month":1,"date":1,"hours":3,"minutes":40,"seconds":35,"utc":true},{"year":1900,"month":1,"date":1,"hours":6,"minutes":34,"seconds":25,"utc":true}]}},
"y":{"field":"l","type":"quantitative","axis":null,"scale":{"domain":[5160.64,5315.93]}},
"y2":{"field":"h"},
"color":{"condition":{"test":"datum.c>=datum.o","value":"#089981"},"value":"#f23645"}
}},
{"mark":{"type":"bar","size":5},
"encoding":{
"x":{"field":"t","type":"temporal","axis":null,"scale":{"type":"utc","padding":0,"domain":[{"year":1900,"month":1,"date":1,"hours":3,"minutes":40,"seconds":35,"utc":true},{"year":1900,"month":1,"date":1,"hours":6,"minutes":34,"seconds":25,"utc":true}]}},
"y":{"field":"o","type":"quantitative","axis":null,"scale":{"domain":[5160.64,5315.93]}},
"y2":{"field":"c"},
"color":{"condition":{"test":"datum.c>=datum.o","value":"#089981"},"value":"#f23645"}
}}
]}
]},
{"resolve":{"scale":{"color":"independent"}},
"layer":[
{"data":{"name":"sma","format":{"parse":{"t":"utc:'%H:%M:%S'"}}},
"mark":{"type":"line","strokeWidth":1.1,"interpolate":"monotone"},
"encoding":{
"x":{"field":"t","type":"temporal","axis":null,"scale":{"type":"utc","domain":[{"year":1900,"month":1,"date":1,"hours":3,"minutes":40,"seconds":35,"utc":true},{"year":1900,"month":1,"date":1,"hours":6,"minutes":34,"seconds":25,"utc":true}]}},
"y":{"field":"p","type":"quantitative","axis":null,"scale":{"domain":[5160.64,5315.93]}},
"color":{"field":"s","type":"nominal","legend":null,"scale":{"domain":["a","b","c","d","e"],"range":["#bf5af2","#8a4df0","#4f4ff2","#3f7ff0","#66b36b"]}}
}},
{"data":{"name":"last","format":{"parse":{"t0":"utc:'%H:%M:%S'","t1":"utc:'%H:%M:%S'"}}},
"mark":{"type":"rule","color":"#089981","strokeWidth":1,"strokeDash":[1,2]},
"encoding":{
"x":{"field":"t0","type":"temporal","axis":null,"scale":{"type":"utc","domain":[{"year":1900,"month":1,"date":1,"hours":3,"minutes":40,"seconds":35,"utc":true},{"year":1900,"month":1,"date":1,"hours":6,"minutes":34,"seconds":25,"utc":true}]}},
"x2":{"field":"t1"},
"y":{"field":"p","type":"quantitative","axis":null,"scale":{"domain":[5160.64,5315.93]}}
}},
{"data":{"name":"tag","format":{"parse":{"t0":"utc:'%H:%M:%S'","t1":"utc:'%H:%M:%S'"}}},
"mark":{"type":"rect","color":"#089981","cornerRadius":1},
"encoding":{
"x":{"field":"t0","type":"temporal","axis":null,"scale":{"type":"utc","domain":[{"year":1900,"month":1,"date":1,"hours":3,"minutes":40,"seconds":35,"utc":true},{"year":1900,"month":1,"date":1,"hours":6,"minutes":34,"seconds":25,"utc":true}]}},
"x2":{"field":"t1"},
"y":{"field":"p0","type":"quantitative","axis":null,"scale":{"domain":[5160.64,5315.93]}},
"y2":{"field":"p1"}
}},
{"data":{"name":"tagText","format":{"parse":{"t":"utc:'%H:%M:%S'"}}},
"mark":{"type":"text","align":"left","baseline":"middle","fontSize":12},
"encoding":{
"x":{"field":"t","type":"temporal","axis":null,"scale":{"type":"utc","domain":[{"year":1900,"month":1,"date":1,"hours":3,"minutes":40,"seconds":35,"utc":true},{"year":1900,"month":1,"date":1,"hours":6,"minutes":34,"seconds":25,"utc":true}]}},
"y":{"field":"p","type":"quantitative","axis":null,"scale":{"domain":[5160.64,5315.93]}},
"text":{"field":"label"},
"color":{"field":"kind","type":"nominal","legend":null,"scale":{"domain":["price","clock"],"range":["#ffffff","#b5e0d8"]}}
}},
{"data":{"name":"badge","format":{"parse":{"t":"utc:'%H:%M:%S'"}}},
"layer":[
{"mark":{"type":"point","shape":"circle","filled":true,"fill":"#ffffff","stroke":"#9c27b0","strokeWidth":2,"size":330,"opacity":1},
"encoding":{
"x":{"field":"t","type":"temporal","axis":null,"scale":{"type":"utc","domain":[{"year":1900,"month":1,"date":1,"hours":3,"minutes":40,"seconds":35,"utc":true},{"year":1900,"month":1,"date":1,"hours":6,"minutes":34,"seconds":25,"utc":true}]}},
"y":{"field":"p","type":"quantitative","axis":null,"scale":{"domain":[5160.64,5315.93]}}
}},
{"mark":{"type":"text","text":"⚡","font":"DejaVu Sans","fontSize":13,"color":"#9c27b0","align":"center","baseline":"middle"},
"encoding":{
"x":{"field":"t","type":"temporal","axis":null,"scale":{"type":"utc","domain":[{"year":1900,"month":1,"date":1,"hours":3,"minutes":40,"seconds":35,"utc":true},{"year":1900,"month":1,"date":1,"hours":6,"minutes":34,"seconds":25,"utc":true}]}},
"y":{"field":"p","type":"quantitative","axis":null,"scale":{"domain":[5160.64,5315.93]}}
}}
]},
{"data":{"name":"badgeDot","format":{"parse":{"t":"utc:'%H:%M:%S'"}}},
"mark":{"type":"point","shape":"circle","filled":true,"color":"#f23645","size":28,"opacity":1},
"encoding":{
"x":{"field":"t","type":"temporal","axis":null,"scale":{"type":"utc","domain":[{"year":1900,"month":1,"date":1,"hours":3,"minutes":40,"seconds":35,"utc":true},{"year":1900,"month":1,"date":1,"hours":6,"minutes":34,"seconds":25,"utc":true}]}},
"y":{"field":"p","type":"quantitative","axis":null,"scale":{"domain":[5160.64,5315.93]}}
}}
]},
{"layer":[
{"data":{"name":"dailyHgrid"},
"mark":{"type":"rule","color":"#f0f0f0","strokeWidth":1},
"encoding":{
"x":{"field":"d0","type":"quantitative","axis":null,"scale":{"padding":0,"domain":[-0.4167,173.4167]}},
"x2":{"field":"d1"},
"y":{"field":"v","type":"quantitative","axis":null,"scale":{"domain":[6086.9,6869.9]}}
}},
{"data":{"name":"dailyVgrid"},
"mark":{"type":"rule","color":"#f0f0f0","strokeWidth":1},
"encoding":{
"x":{"field":"d","type":"quantitative","axis":null,"scale":{"padding":0,"domain":[-0.4167,173.4167]}},
"y":{"field":"v0","type":"quantitative","axis":null,"scale":{"domain":[6086.9,6869.9]}},
"y2":{"field":"v1"}
}},
{"data":{"name":"daily"},
"mark":{"type":"rule","strokeWidth":1},
"encoding":{
"x":{"field":"d","type":"quantitative","axis":null,"scale":{"padding":0,"domain":[-0.4167,173.4167]}},
"y":{"field":"l","type":"quantitative","axis":null,"scale":{"domain":[6086.9,6869.9]}},
"y2":{"field":"h"},
"color":{"condition":{"test":"datum.c>=datum.o","value":"#089981"},"value":"#f23645"}
}},
{"data":{"name":"daily"},
"mark":{"type":"bar","size":5},
"encoding":{
"x":{"field":"d","type":"quantitative","axis":null,"scale":{"padding":0,"domain":[-0.4167,173.4167]}},
"y":{"field":"o","type":"quantitative","axis":null,"scale":{"domain":[6086.9,6869.9]}},
"y2":{"field":"c"},
"color":{"condition":{"test":"datum.c>=datum.o","value":"#089981"},"value":"#f23645"}
}},
{"data":{"name":"usdBox"},
"mark":{"type":"rect","fill":"#ffffff","stroke":"#eeeeee","strokeWidth":2,"cornerRadius":4},
"encoding":{
"x":{"field":"d0","type":"quantitative","axis":null,"scale":{"padding":0,"domain":[-0.4167,173.4167]}},
"x2":{"field":"d1"},
"y":{"field":"v0","type":"quantitative","axis":null,"scale":{"domain":[6086.9,6869.9]}},
"y2":{"field":"v1"}
}},
{"data":{"name":"legend"},
"mark":{"type":"text","align":"left","baseline":"middle","fontSize":12},
"encoding":{
"x":{"field":"d","type":"quantitative","axis":null,"scale":{"padding":0,"domain":[-0.4167,173.4167]}},
"y":{"field":"v","type":"quantitative","axis":null,"scale":{"domain":[6086.9,6869.9]}},
"text":{"field":"label"},
"color":{"field":"kind","type":"nominal","legend":null,"scale":{"domain":["dark","down","vol","sma200","sma50"],"range":["#131722","#f23645","#f0696f","#3f3fff","#4b7dff"]}}
}}
]},
{"data":{"name":"mainGuide","format":{"parse":{"t":"utc:'%H:%M:%S'"}}},
"mark":{"type":"point","opacity":0},
"encoding":{
"x":{"field":"t","type":"temporal","scale":{"type":"utc","domain":[{"year":1900,"month":1,"date":1,"hours":3,"minutes":40,"seconds":35,"utc":true},{"year":1900,"month":1,"date":1,"hours":6,"minutes":34,"seconds":25,"utc":true}]},"axis":{"title":null,"zindex":1,"orient":"bottom","offset":-118,"values":[{"year":1900,"month":1,"date":1,"hours":3,"minutes":45,"utc":true},{"year":1900,"month":1,"date":1,"hours":4,"minutes":0,"utc":true},{"year":1900,"month":1,"date":1,"hours":4,"minutes":15,"utc":true},{"year":1900,"month":1,"date":1,"hours":4,"minutes":30,"utc":true},{"year":1900,"month":1,"date":1,"hours":4,"minutes":45,"utc":true},{"year":1900,"month":1,"date":1,"hours":5,"minutes":0,"utc":true},{"year":1900,"month":1,"date":1,"hours":5,"minutes":15,"utc":true},{"year":1900,"month":1,"date":1,"hours":5,"minutes":30,"utc":true},{"year":1900,"month":1,"date":1,"hours":5,"minutes":45,"utc":true},{"year":1900,"month":1,"date":1,"hours":6,"minutes":0,"utc":true},{"year":1900,"month":1,"date":1,"hours":6,"minutes":15,"utc":true}],"format":"%H:%M","ticks":false,"domain":false,"grid":false,"labelPadding":7,"labelFontSize":12,"labelColor":"#2a2e39","labelOverlap":false,"labelFlush":false,"labelFontWeight":{"condition":{"test":"utcminutes(datum.value)===0","value":"bold"},"value":"normal"}}},
"y":{"field":"p","type":"quantitative","scale":{"domain":[5160.64,5315.93]},"axis":{"title":null,"zindex":1,"orient":"right","offset":-20,"values":[5310,5300,5280,5270,5260,5250,5240,5230,5220,5210,5200],"format":",.2f","ticks":false,"domain":false,"grid":false,"labelAlign":"right","labelPadding":0,"labelOffset":-1,"labelFontSize":12,"labelColor":"#2a2e39"}}
}},
{"data":{"name":"dailyGuide"},
"mark":{"type":"point","opacity":0},
"encoding":{
"x":{"field":"d","type":"quantitative","axis":null,"scale":{"domain":[-0.4167,173.4167]}},
"y":{"field":"v","type":"quantitative","scale":{"domain":[6086.9,6869.9]},"axis":{"title":null,"zindex":1,"orient":"right","offset":-20,"values":[6150,6100],"format":",.2f","ticks":false,"domain":false,"grid":false,"labelAlign":"right","labelPadding":0,"labelFontSize":12,"labelColor":"#2a2e39"}}
}}
]
}
